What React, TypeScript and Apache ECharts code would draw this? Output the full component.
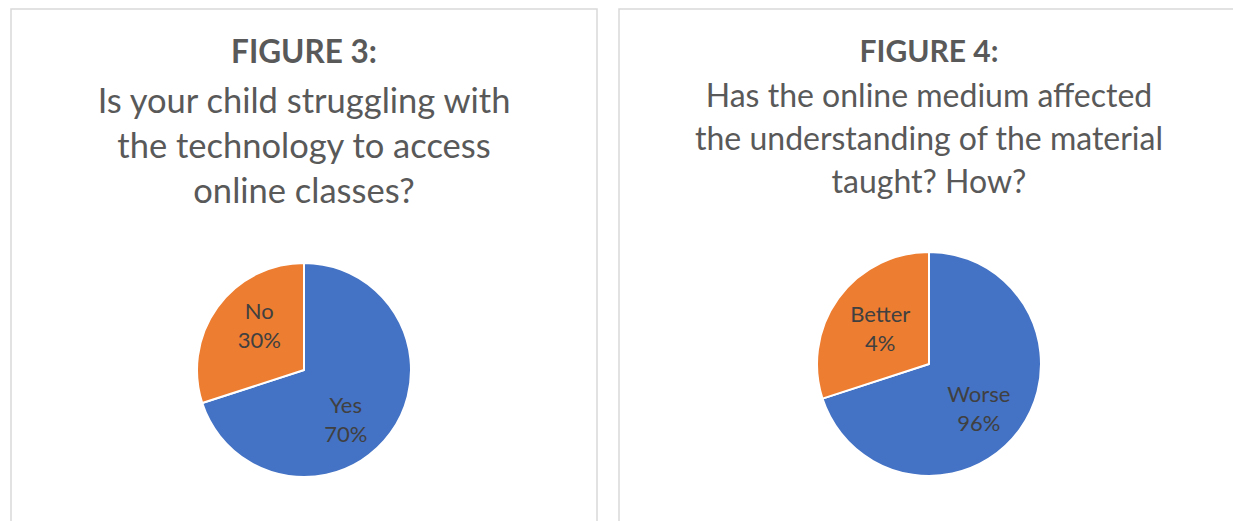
import React, { useEffect, useRef } from "react";
import * as echarts from "echarts";

const fig3Categories = ["Yes", "No"];
const fig3Values = [70, 30];
const fig3LabelPercents = ["70%", "30%"];

const fig4Categories = ["Worse", "Better"];
const fig4SliceValues = [70, 30];
const fig4LabelPercents = ["96%", "4%"];

const fig3Heading = "FIGURE 3:";
const fig3Question = ["Is your child struggling with", "the technology to access", "online classes?"];
const fig4Heading = "FIGURE 4:";
const fig4Question = ["Has the online medium affected", "the understanding of the material", "taught? How?"];

const colors = ["#4472C4", "#ED7D31"];
const FONT = "Lato, 'Open Sans', sans-serif";

// label nudges (Excel best-fit placement), [series][dataIndex] = [dx, dy]
const labelNudge = [
  [[-4, 16], [1, -12]],
  [[2, 9], [-1, -1]],
];

export default function App() {
  const ref = useRef<HTMLDivElement>(null);
  useEffect(() => {
    document.body.style.margin = "0";
    const chart = echarts.init(ref.current!, null, { renderer: "svg" });

    const makeData = (cats: string[], vals: number[], pcts: string[]) =>
      cats.map((c, i) => ({ name: c, value: vals[i], pct: pcts[i], itemStyle: { color: colors[i] } }));

    const titleEls = (
      cx: number,
      heading: string,
      headSize: number,
      headY: number,
      lines: string[],
      y0: number,
      step: number,
      size: number
    ) => {
      const els: any[] = [
        {
          type: "text",
          x: cx,
          y: headY,
          style: {
            text: heading,
            fontFamily: FONT,
            fontWeight: "bold",
            fontSize: headSize,
            fill: "#595959",
            align: "center",
            verticalAlign: "middle",
          },
        },
      ];
      lines.forEach((t, i) =>
        els.push({
          type: "text",
          x: cx,
          y: y0 + i * step,
          style: {
            text: t,
            fontFamily: FONT,
            fontSize: size,
            fill: "#595959",
            align: "center",
            verticalAlign: "middle",
          },
        })
      );
      return els;
    };

    const label = {
      show: true,
      position: "inside",
      formatter: (p: any) => `${p.name}\n${p.data.pct}`,
      fontFamily: FONT,
      fontSize: 22,
      lineHeight: 29,
      color: "#404040",
    };

    const common = {
      type: "pie",
      startAngle: 90,
      clockwise: true,
      label,
      labelLine: { show: false },
      itemStyle: { borderColor: "#fff", borderWidth: 2 },
      emphasis: { disabled: true },
      labelLayout: (p: any) => {
        const n = labelNudge[p.seriesIndex][p.dataIndex];
        return { dx: n[0], dy: n[1] };
      },
    };

    chart.setOption({
      animation: false,
      graphic: [
        { type: "rect", shape: { x: 11, y: 9, width: 586, height: 600 }, style: { fill: "#fff", stroke: "#D9D9D9", lineWidth: 1.5 }, z: -10 },
        { type: "rect", shape: { x: 619, y: 9, width: 700, height: 600 }, style: { fill: "#fff", stroke: "#D9D9D9", lineWidth: 1.5 }, z: -10 },
        ...titleEls(304, fig3Heading, 31.5, 51, fig3Question, 99, 45, 34.5),
        ...titleEls(929, fig4Heading, 30, 50, fig4Question, 94, 43, 32),
      ],
      series: [
        {
          ...common,
          center: [304, 370],
          radius: 107,
          data: makeData(fig3Categories, fig3Values, fig3LabelPercents),
        },
        {
          ...common,
          center: [929, 364],
          radius: 112,
          data: makeData(fig4Categories, fig4SliceValues, fig4LabelPercents),
        },
      ],
    });
    return () => chart.dispose();
  }, []);
  return <div ref={ref} style={{ position: "fixed", left: 0, top: 0, width: 1233, height: 521, background: "#fff" }} />;
}
